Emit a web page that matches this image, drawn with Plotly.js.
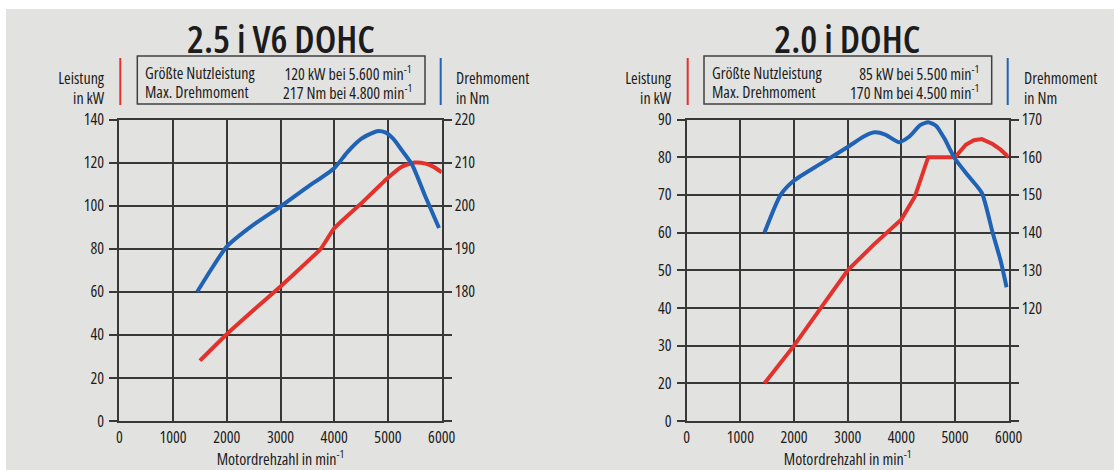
<!DOCTYPE html>
<html>
<head>
<meta charset="utf-8">
<script src="https://cdn.plot.ly/plotly-3.0.1.min.js"></script>
<style>
html,body{margin:0;padding:0;background:#e2e3e1;}
#chart{width:1114px;height:470px;}
#chart text{font-stretch:75% !important;}
</style>
</head>
<body>
<div id="chart"></div>
<script>
// ---- Chart 1: 2.5 i V6 DOHC ----
const title1 = "2.5 i V6 DOHC";
const rpmPower1 = [1500, 2000, 2500, 3000, 3500, 3750, 4000, 4500, 5000, 5250, 5500, 5700, 5850, 6000];
const power1 = [28, 40.3, 51.5, 62.5, 74, 80, 89.5, 101, 113, 118, 120, 119.5, 118, 115.5];
const rpmTorque1 = [1450, 1700, 2000, 2500, 3000, 3500, 4000, 4250, 4500, 4800, 4950, 5100, 5250, 5450, 5700, 5950];
const torque1 = [180, 185, 190.5, 195.6, 199.8, 204.3, 208.7, 212.5, 215.5, 217.3, 217, 215.5, 213, 209.5, 202, 194.8];
const info1Left = ["Größte Nutzleistung", "Max. Drehmoment"];
const info1Right = ["120 kW bei 5.600 min<sup>-1</sup>", "217 Nm bei 4.800 min<sup>-1</sup>"];
const kwTicks1 = [0, 20, 40, 60, 80, 100, 120, 140];
const nmTicks1 = [180, 190, 200, 210, 220];

// ---- Chart 2: 2.0 i DOHC ----
const title2 = "2.0 i DOHC";
const rpmPower2 = [1450, 2000, 2500, 3000, 3500, 4000, 4250, 4500, 5000, 5200, 5350, 5500, 5700, 5850, 6000];
const power2 = [20, 30, 40, 50, 57, 63.5, 69.5, 80, 80, 83.3, 84.5, 84.8, 83.5, 82, 80];
const rpmTorque2 = [1450, 1750, 2000, 2500, 3000, 3300, 3500, 3700, 3950, 4150, 4350, 4500, 4650, 4800, 5000, 5250, 5500, 5700, 5850, 5960];
const torque2 = [140, 150, 153.8, 158.3, 162.7, 165.5, 166.6, 166, 164, 165.5, 168.5, 169.3, 168.3, 165, 159.6, 155, 150.5, 140, 132.5, 125.5];
const info2Left = ["Größte Nutzleistung", "Max. Drehmoment"];
const info2Right = ["85 kW bei 5.500 min<sup>-1</sup>", "170 Nm bei 4.500 min<sup>-1</sup>"];
// broken power axis: "0" label sits one step below 20
const kwTicks2 = [10, 20, 30, 40, 50, 60, 70, 80, 90];
const kwLabels2 = ["0", "20", "30", "40", "50", "60", "70", "80", "90"];
const nmTicks2 = [120, 130, 140, 150, 160, 170];

const rpmTicks = [0, 1000, 2000, 3000, 4000, 5000, 6000];

const xLabel = "Motordrehzahl in min<sup>-1</sup>";
const leftLabel = ["Leistung", "in kW"];
const rightLabel = ["Drehmoment", "in Nm"];

// ---- styling ----
const W = 1114, H = 470;
const BG = "#e2e3e1";
const INK = "#1c1c1c";
const GRID = "#383838";
const RED = "#e3312c";
const BLUE = "#2062b4";
const FONT = "'Open Sans', 'DejaVu Sans', sans-serif";
const px = x => x / W;
const py = y => 1 - y / H;

const traces = [
  {x: rpmTorque1, y: torque1, xaxis: "x", yaxis: "y2", mode: "lines",
   line: {color: BLUE, width: 4, shape: "spline", smoothing: 0.6}, hoverinfo: "skip"},
  {x: rpmPower1, y: power1, xaxis: "x", yaxis: "y", mode: "lines",
   line: {color: RED, width: 4, shape: "spline", smoothing: 0.5}, hoverinfo: "skip"},
  {x: rpmTorque2, y: torque2, xaxis: "x2", yaxis: "y4", mode: "lines",
   line: {color: BLUE, width: 4, shape: "spline", smoothing: 0.6}, hoverinfo: "skip"},
  {x: rpmPower2, y: power2, xaxis: "x2", yaxis: "y3", mode: "lines",
   line: {color: RED, width: 4, shape: "linear"}, hoverinfo: "skip"}
];

const tickFont = {family: FONT, size: 16, color: INK};
function xAxis(domain, yanchor) {
  return {
    domain: domain, anchor: yanchor, range: [0, 6000], tickvals: rpmTicks,
    ticktext: rpmTicks.map(String), showgrid: true, gridcolor: GRID, gridwidth: 2,
    zeroline: false, showline: true, linecolor: GRID, linewidth: 2, mirror: true,
    ticks: "", tickfont: tickFont, ticklabelstandoff: 1,
    title: {text: xLabel, font: {family: FONT, size: 16, color: INK}, standoff: 7},
    fixedrange: true
  };
}
function yLeft(range, tv, tt, xanchor) {
  return {
    domain: [0.1043, 0.7457], anchor: xanchor, range: range, tickvals: tv, ticktext: tt,
    showgrid: true, gridcolor: GRID, gridwidth: 2, zeroline: false,
    showline: true, linecolor: GRID, linewidth: 2, mirror: "ticks",
    ticks: "outside", ticklen: 8, tickwidth: 2, tickcolor: GRID,
    tickfont: tickFont, ticklabelstandoff: 2, fixedrange: true
  };
}
function yRight(range, tv, xanchor, overlay) {
  return {
    domain: [0.1043, 0.7457], anchor: xanchor, overlaying: overlay, side: "right",
    range: range, tickvals: tv, ticktext: tv.map(String), showgrid: false, zeroline: false,
    showline: false, ticks: "", tickfont: tickFont, ticklabelstandoff: 12, fixedrange: true
  };
}

const dom1 = [119.3 / W, 441.7 / W];
const dom2 = [686.7 / W, 1008.7 / W];

function ann(text, x, y, xanchor, size, weight) {
  return {
    text: text, x: px(x), y: py(y), xref: "paper", yref: "paper",
    xanchor: xanchor, yanchor: "middle", align: xanchor, borderpad: 0,
    showarrow: false, font: {family: FONT, size: size, color: INK, weight: weight || 400}
  };
}

const annotations = [
  ann(title1, 280.5, 38, "center", 38, 600),
  ann(leftLabel[0], 105, 78, "right", 16),
  ann(leftLabel[1], 105, 98, "right", 16),
  ann(rightLabel[0], 455, 78, "left", 16),
  ann(rightLabel[1], 455, 98, "left", 16),
  ann(info1Left[0], 144, 72.5, "left", 16),
  ann(info1Left[1], 144, 92.5, "left", 16),
  ann(info1Right[0], 413, 72.5, "right", 16),
  ann(info1Right[1], 413, 92.5, "right", 16),
  ann(title2, 847.7, 38, "center", 38, 600),
  ann(leftLabel[0], 672, 78, "right", 16),
  ann(leftLabel[1], 672, 98, "right", 16),
  ann(rightLabel[0], 1022.7, 78, "left", 16),
  ann(rightLabel[1], 1022.7, 98, "left", 16),
  ann(info2Left[0], 711, 72.5, "left", 16),
  ann(info2Left[1], 711, 92.5, "left", 16),
  ann(info2Right[0], 980, 72.5, "right", 16),
  ann(info2Right[1], 980, 92.5, "right", 16)
];

const shapes = [
  // white scan margins
  {type: "rect", xref: "paper", yref: "paper", x0: 0, x1: 1, y0: py(9), y1: 1, fillcolor: "#ffffff", line: {width: 0}, layer: "below"},
  {type: "rect", xref: "paper", yref: "paper", x0: 0, x1: px(6), y0: 0, y1: 1, fillcolor: "#ffffff", line: {width: 0}, layer: "below"},
  // info boxes
  {type: "rect", xref: "paper", yref: "paper", x0: px(137.3), x1: px(425), y0: py(104), y1: py(56), line: {color: "#404040", width: 1.5}},
  {type: "rect", xref: "paper", yref: "paper", x0: px(704), x1: px(991.7), y0: py(104), y1: py(56), line: {color: "#404040", width: 1.5}},
  // colour keys above the axes
  {type: "line", xref: "x", yref: "paper", x0: 0, x1: 0, y0: py(105), y1: py(58), line: {color: RED, width: 4}},
  {type: "line", xref: "x", yref: "paper", x0: 6000, x1: 6000, y0: py(105), y1: py(58), line: {color: BLUE, width: 4}},
  {type: "line", xref: "x2", yref: "paper", x0: 0, x1: 0, y0: py(105), y1: py(58), line: {color: RED, width: 4}},
  {type: "line", xref: "x2", yref: "paper", x0: 6000, x1: 6000, y0: py(105), y1: py(58), line: {color: BLUE, width: 4}}
];

const layout = {
  width: W, height: H, margin: {l: 0, r: 0, t: 0, b: 0, pad: 0},
  paper_bgcolor: BG, plot_bgcolor: BG, showlegend: false,
  font: {family: FONT, color: INK},
  xaxis: xAxis(dom1, "y"),
  yaxis: yLeft([0, 140], kwTicks1, kwTicks1.map(String), "x"),
  yaxis2: yRight([150, 220], nmTicks1, "x", "y"),
  xaxis2: xAxis(dom2, "y3"),
  yaxis3: yLeft([10, 90], kwTicks2, kwLabels2, "x2"),
  yaxis4: yRight([90, 170], nmTicks2, "x2", "y3"),
  annotations: annotations,
  shapes: shapes
};

Plotly.newPlot("chart", traces, layout, {staticPlot: true, displayModeBar: false});
</script>
</body>
</html>
